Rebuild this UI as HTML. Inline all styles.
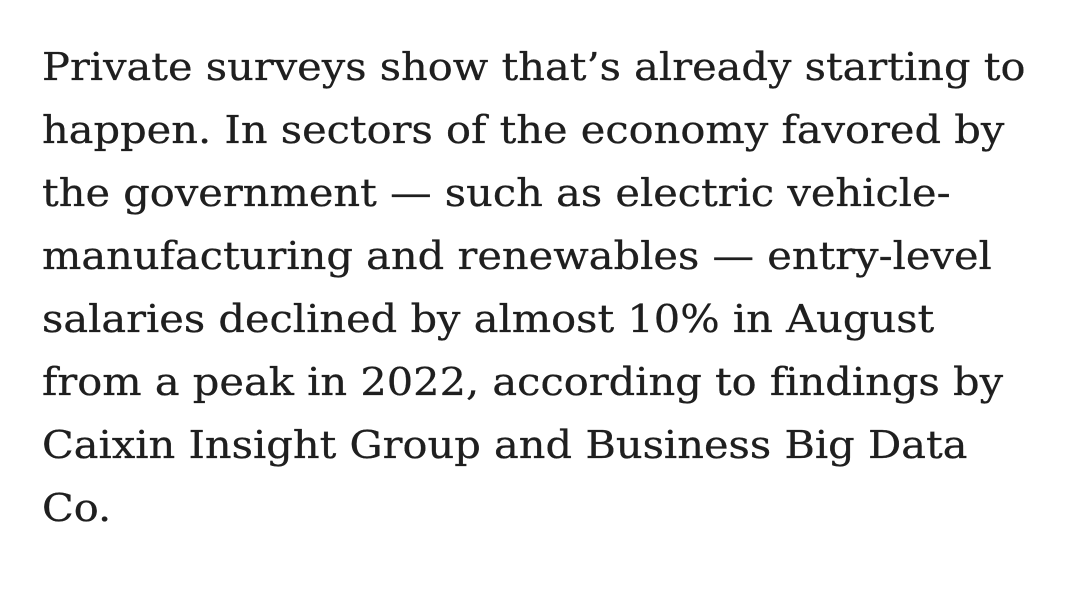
<!DOCTYPE html>
<html><head><meta charset="utf-8"><style>
html,body{margin:0;padding:0;background:#fff;width:1080px;height:602px;overflow:hidden}
.t{position:absolute;left:42px;top:36px;font-family:"DejaVu Serif","Liberation Serif",serif;font-size:38px;line-height:63px;color:#1f1f1f;white-space:nowrap;transform:scaleX(1.093);transform-origin:0 0;font-variant-ligatures:none;-webkit-text-stroke:0.3px #1f1f1f}
</style></head><body>
<div class="t">Private surveys show that’s already starting to<br>happen. In sectors of the economy favored by<br>the government — such as electric vehicle-<br>manufacturing and renewables — entry-level<br>salaries declined by almost 10% in August<br>from a peak in 2022, according to findings by<br>Caixin Insight Group and Business Big Data<br>Co.</div>
</body></html>
